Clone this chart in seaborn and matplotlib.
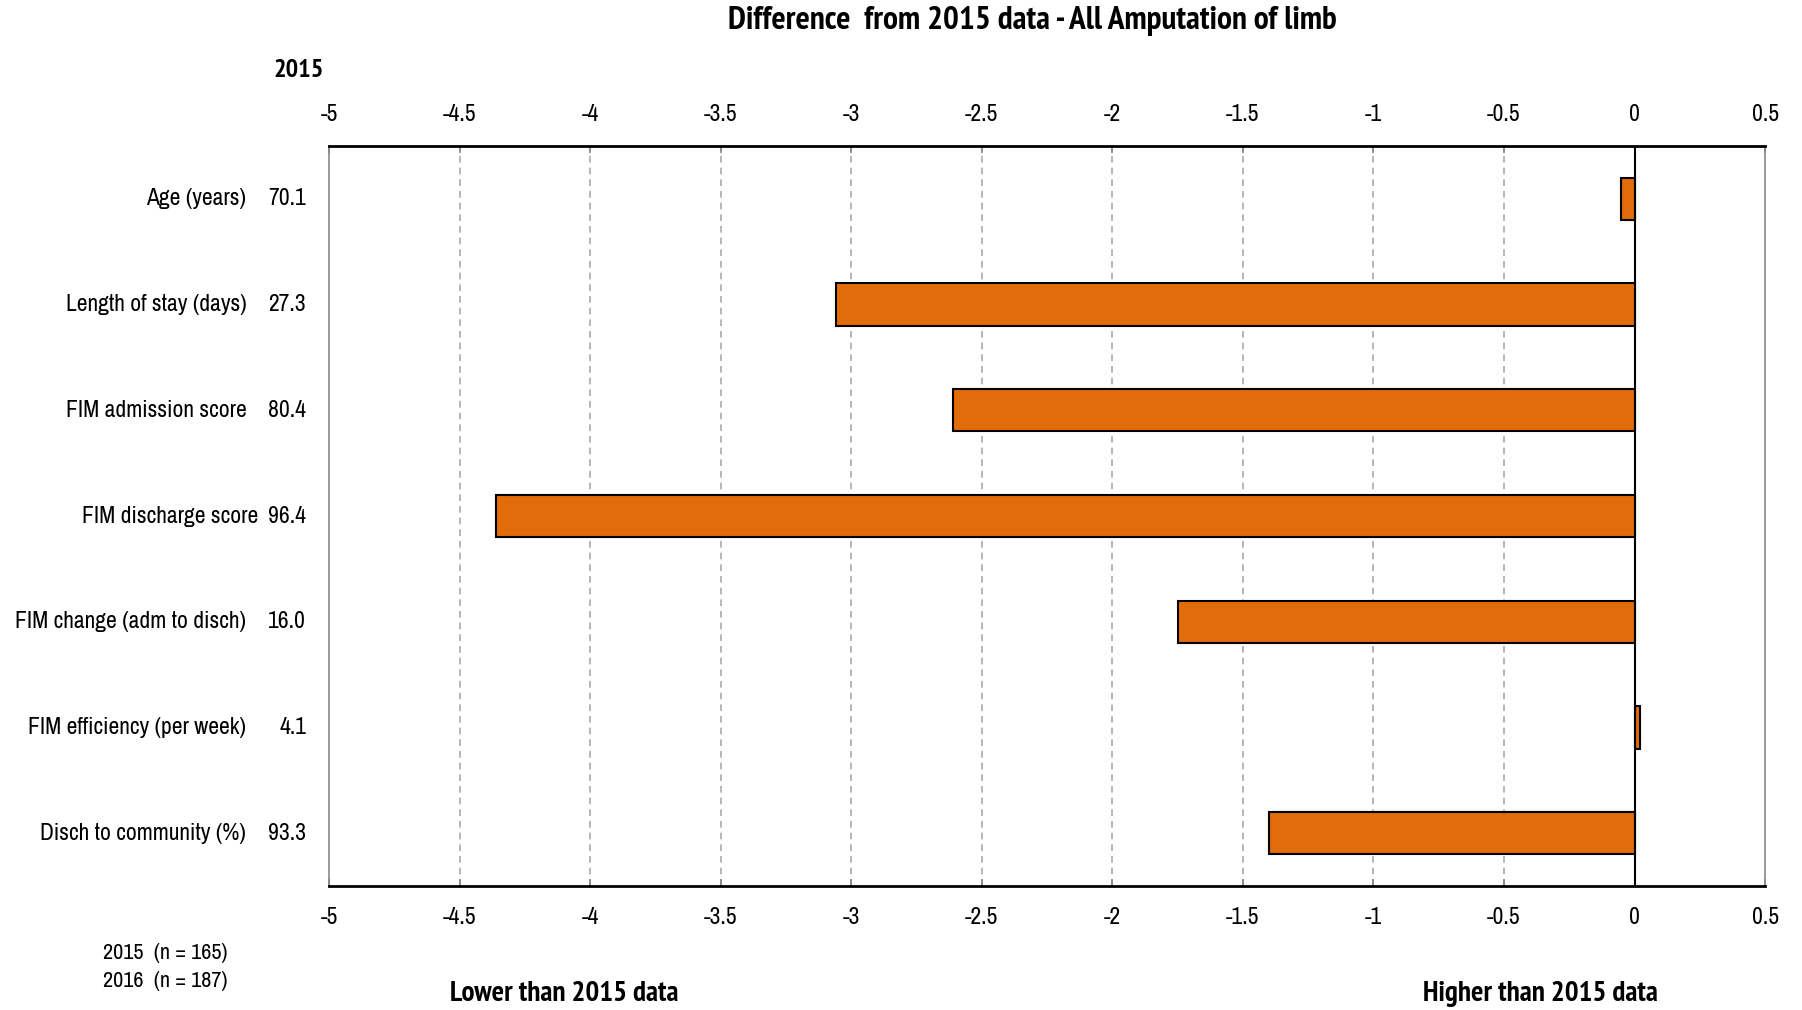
import pandas as pd
import matplotlib.pyplot as plt
import seaborn as sns

# values
categories = ["Age (years)", "Length of stay (days)", "FIM admission score",
              "FIM discharge score", "FIM change (adm to disch)",
              "FIM efficiency (per week)", "Disch to community (%)"]
base_2015 = ["70.1", "27.3", "80.4", "96.4", "16.0", "4.1", "93.3"]
diff = [-0.05, -3.06, -2.61, -4.36, -1.75, 0.02, -1.40]
xticks = [-5, -4.5, -4, -3.5, -3, -2.5, -2, -1.5, -1, -0.5, 0, 0.5]
xticklabels = ["-5", "-4.5", "-4", "-3.5", "-3", "-2.5", "-2", "-1.5", "-1", "-0.5", "0", "0.5"]

df = pd.DataFrame({"category": categories, "diff": diff})

sns.set_theme(style="white")
plt.rcParams['font.family'] = ['Archivo Narrow', 'PT Sans Narrow', 'DejaVu Sans']
plt.rcParams['text.color'] = 'black'
plt.rcParams['xtick.color'] = 'black'
BOLD = ['PT Sans Narrow', 'Roboto Condensed', 'DejaVu Sans']

fig = plt.figure(figsize=(18.02, 10.10), dpi=100)
ax = fig.add_axes([0.1826, 0.1228, 0.9795 - 0.1826, 0.8554 - 0.1228])

sns.barplot(data=df, x="diff", y="category", orient="h", width=0.4,
            color="#E36C0A", saturation=1, edgecolor="black", linewidth=1.5, ax=ax)

ax.set_xlim(-5, 0.5)
ax.set_xticks(xticks)
ax.set_xticklabels(xticklabels, fontsize=17)
ax.tick_params(axis="x", top=True, labeltop=True, bottom=True, direction="in",
               length=5, color="#888888", labelcolor="black", pad=15)

# dashed grid, solid zero line
for t in xticks:
    if t == 0 or t == 0.5 or t == -5:
        continue
    ax.axvline(t, color="#aaaaaa", linestyle=(0, (4, 3)), linewidth=1.2, zorder=0)
ax.axvline(0, color="black", linewidth=1.5, zorder=3)

for side in ["top", "bottom"]:
    ax.spines[side].set_color("black")
    ax.spines[side].set_linewidth(2)
for side in ["left", "right"]:
    ax.spines[side].set_color("#888888")
    ax.spines[side].set_linewidth(1.2)

ax.set_xlabel("")
ax.set_ylabel("")
ax.set_yticks(range(len(categories)))
ax.set_yticklabels([])
ax.tick_params(axis="y", left=False)

# category names and 2015 values to the left of the plot
for i, (name, val) in enumerate(zip(categories, base_2015)):
    ax.text(-0.0576 if name != "FIM discharge score" else -0.0496, i, name,
            transform=ax.get_yaxis_transform(), ha="right", va="center", fontsize=17)
    ax.text(-0.016, i, val, transform=ax.get_yaxis_transform(),
            ha="right", va="center", fontsize=17)

fig.text(0.573, 0.979, "Difference  from 2015 data - All Amputation of limb",
         ha="center", va="center", fontsize=24, fontweight="bold", family=BOLD)
fig.text(0.166, 0.930, "2015", ha="center", va="center", fontsize=19,
         fontweight="bold", family=BOLD)
fig.text(0.057, 0.056, "2015  (n = 165)", ha="left", va="center", fontsize=16)
fig.text(0.057, 0.029, "2016  (n = 187)", ha="left", va="center", fontsize=16)
fig.text(0.313, 0.016, "Lower than 2015 data", ha="center", va="center",
         fontsize=21, fontweight="bold", family=BOLD)
fig.text(0.855, 0.016, "Higher than 2015 data", ha="center", va="center",
         fontsize=21, fontweight="bold", family=BOLD)

plt.savefig("out.png", dpi=100)
